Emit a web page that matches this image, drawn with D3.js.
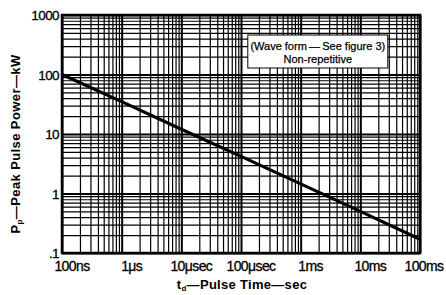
<!DOCTYPE html>
<html>
<head>
<meta charset="utf-8">
<script src="https://cdn.jsdelivr.net/npm/d3@7"></script>
<style>
  body { margin: 0; background: #fff; }
  text { font-family: "Liberation Sans", Arial, sans-serif; fill: #000; }
</style>
</head>
<body>
<div id="chart"></div>
<script>
// pulse time (sec) vs peak pulse power (kW)
var pulseTimes = [1e-7, 1e-6, 1e-5, 1e-4, 1e-3, 1e-2, 1e-1];
var peakPower = [100, 35, 12, 4.2, 1.45, 0.5, 0.17];

var xTickValues = [1e-7, 1e-6, 1e-5, 1e-4, 1e-3, 1e-2, 1e-1];
var xTickLabels = ["100ns", "1\u03bcs", "10\u03bcsec", "100\u03bcsec", "1ms", "10ms", "100ms"];
var yTickValues = [0.1, 1, 10, 100, 1000];
var yTickLabels = [".1", "1", "10", "100", "1000"];

var svgWidth = 446;
var svgHeight = 295;
var margin = { top: 15, right: 26, bottom: 42, left: 62 };
var width = svgWidth - margin.left - margin.right;
var height = svgHeight - margin.top - margin.bottom;

var svg = d3.select("#chart").append("svg")
    .attr("width", svgWidth)
    .attr("height", svgHeight);

var chartGroup = svg.append("g")
    .attr("transform", `translate(${margin.left}, ${margin.top})`);

var x = d3.scaleLog().domain([1e-7, 1e-1]).range([0, width]);
var y = d3.scaleLog().domain([0.1, 1000]).range([height, 0]);

// minor + major grid
var xMinor = [];
for (var e = -7; e < -1; e++) {
    for (var m = 2; m <= 9; m++) xMinor.push(m * Math.pow(10, e));
}
var yMinor = [];
for (var e2 = -1; e2 < 3; e2++) {
    for (var m2 = 2; m2 <= 9; m2++) yMinor.push(m2 * Math.pow(10, e2));
}

chartGroup.append("g")
    .attr("transform", `translate(0, ${height})`)
    .call(d3.axisBottom(x).tickValues(xMinor).tickSize(-height).tickFormat(""))
    .call(g => g.select(".domain").remove())
    .selectAll("line").attr("stroke", "#000").attr("stroke-width", 1.2);

chartGroup.append("g")
    .call(d3.axisLeft(y).tickValues(yMinor).tickSize(-width).tickFormat(""))
    .call(g => g.select(".domain").remove())
    .selectAll("line").attr("stroke", "#000").attr("stroke-width", 1.2);

chartGroup.append("g")
    .attr("transform", `translate(0, ${height})`)
    .call(d3.axisBottom(x).tickValues(xTickValues).tickSize(-height).tickFormat(""))
    .call(g => g.select(".domain").remove())
    .selectAll("line").attr("stroke", "#000").attr("stroke-width", 2);

chartGroup.append("g")
    .call(d3.axisLeft(y).tickValues(yTickValues).tickSize(-width).tickFormat(""))
    .call(g => g.select(".domain").remove())
    .selectAll("line").attr("stroke", "#000").attr("stroke-width", 2);

// frame
chartGroup.append("rect")
    .attr("width", width)
    .attr("height", height)
    .attr("fill", "none")
    .attr("stroke", "#000")
    .attr("stroke-width", 2.5);

// curve
var line = d3.line()
    .x((d, i) => x(pulseTimes[i]))
    .y(d => y(d));

chartGroup.append("path")
    .datum(peakPower)
    .attr("d", line)
    .attr("fill", "none")
    .attr("stroke", "#000")
    .attr("stroke-width", 3.2);

// legend box
var note = chartGroup.append("g")
    .attr("transform", `translate(${x(1.3e-4)}, 20)`);
note.append("rect")
    .attr("width", 140)
    .attr("height", 33)
    .attr("fill", "#fff")
    .attr("stroke", "#000")
    .attr("stroke-width", 1);
note.append("text")
    .attr("x", 70).attr("y", 15)
    .attr("text-anchor", "middle")
    .style("font-size", "11px")
    .style("stroke", "#000").style("stroke-width", 0.25)
    .text("(Wave form\u2009\u2014\u2009See figure 3)");
note.append("text")
    .attr("x", 70).attr("y", 28)
    .attr("text-anchor", "middle")
    .style("font-size", "11px")
    .style("stroke", "#000").style("stroke-width", 0.25)
    .text("Non-repetitive");

// tick labels
chartGroup.selectAll(".xlab")
    .data(xTickValues)
    .enter().append("text")
    .attr("class", "xlab")
    .attr("x", (d, i) => x(d) + (i === xTickValues.length - 1 ? 4 : 10))
    .attr("y", height + 18)
    .attr("text-anchor", "middle")
    .style("font-size", "14px")
    .style("letter-spacing", "-0.6px")
    .style("stroke", "#000").style("stroke-width", 0.3)
    .text((d, i) => xTickLabels[i]);

chartGroup.selectAll(".ylab")
    .data(yTickValues)
    .enter().append("text")
    .attr("class", "ylab")
    .attr("x", -3)
    .attr("y", d => y(d) + 5)
    .attr("text-anchor", "end")
    .style("font-size", "13.5px")
    .style("letter-spacing", "-0.6px")
    .style("stroke", "#000").style("stroke-width", 0.3)
    .text((d, i) => yTickLabels[i]);

// axis titles
var xTitle = svg.append("text")
    .attr("x", 242)
    .attr("y", 289)
    .attr("text-anchor", "middle")
    .style("font-size", "13px")
    .style("font-weight", "bold")
    .style("letter-spacing", "0.3px");
xTitle.append("tspan").text("t");
xTitle.append("tspan").attr("dy", 2).style("font-size", "8px").text("d");
xTitle.append("tspan").attr("dy", -2).text("\u2014Pulse Time\u2014sec");

var yTitle = svg.append("text")
    .attr("transform", "translate(20, 144) rotate(-90)")
    .attr("text-anchor", "middle")
    .style("font-size", "13px")
    .style("font-weight", "bold")
    .style("letter-spacing", "0.4px");
yTitle.append("tspan").text("P");
yTitle.append("tspan").attr("dy", 2).style("font-size", "8px").text("p");
yTitle.append("tspan").attr("dy", -2).text("\u2014Peak Pulse Power\u2014kW");
</script>
</body>
</html>
